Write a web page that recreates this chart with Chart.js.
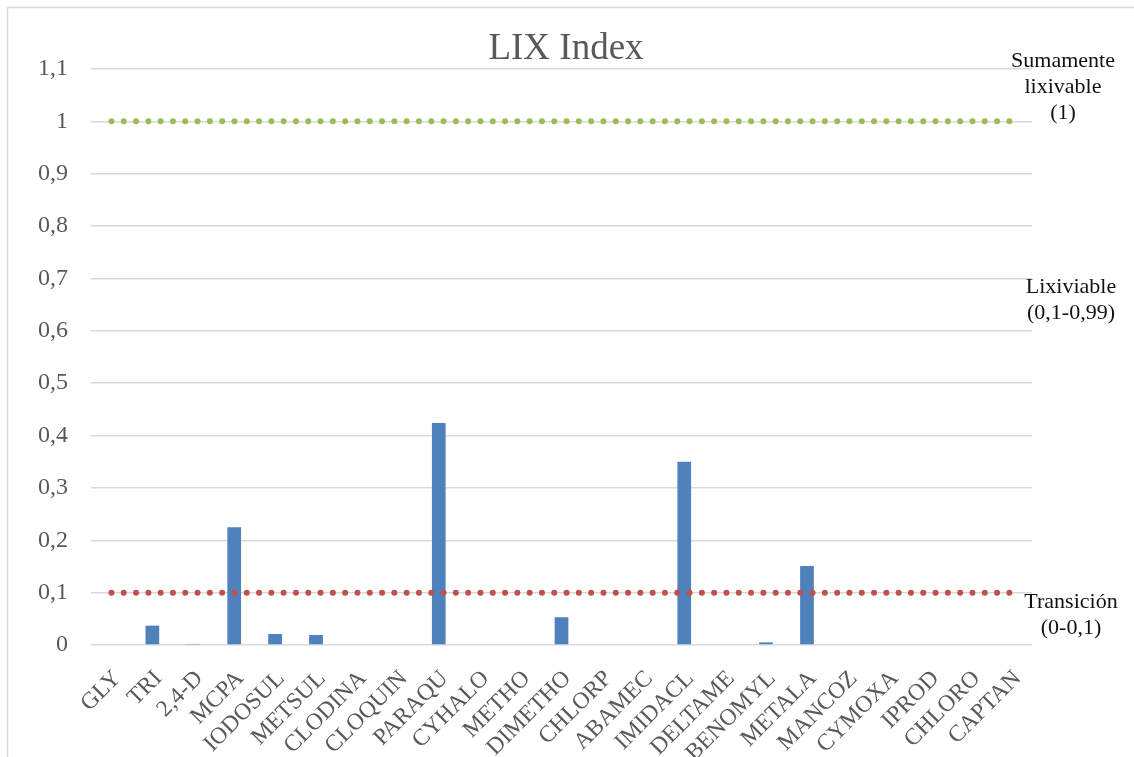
<!DOCTYPE html>
<html>
<head>
<meta charset="utf-8">
<script src="https://cdn.jsdelivr.net/npm/chart.js@4.4.1/dist/chart.umd.min.js"></script>
<style>
  html, body { margin: 0; padding: 0; background: #ffffff; }
  canvas { display: block; }
</style>
</head>
<body>
<canvas id="lix" width="1134" height="757"></canvas>
<script>
// Pesticide abbreviations (categories)
const categories = ['GLY', 'TRI', '2,4-D', 'MCPA', 'IODOSUL', 'METSUL', 'CLODINA', 'CLOQUIN',
  'PARAQU', 'CYHALO', 'METHO', 'DIMETHO', 'CHLORP', 'ABAMEC', 'IMIDACL', 'DELTAME',
  'BENOMYL', 'METALA', 'MANCOZ', 'CYMOXA', 'IPROD', 'CHLORO', 'CAPTAN'];

// LIX index per compound
const lixValues = [0, 0.037, 0.002, 0.225, 0.021, 0.019, 0, 0,
  0.424, 0, 0, 0.053, 0, 0, 0.350, 0,
  0.005, 0.151, 0, 0, 0, 0, 0];

// Class thresholds drawn as reference lines
const upperThreshold = categories.map(() => 1);
const transitionThreshold = categories.map(() => 0.1);

// Y axis ticks
const yMin = 0;
const yMax = 1.1;
const yStep = 0.1;

// Class labels at the right of the plot
const classLabels = [
  { lines: ['Sumamente', 'lixivable', '(1)'] },
  { lines: ['Lixiviable', '(0,1-0,99)'] },
  { lines: ['Transición', '(0-0,1)'] }
];

const SERIF = "'Liberation Serif', 'DejaVu Serif', serif";
const GREY_TEXT = '#595959';
const GRID = '#d9d9d9';

const fmt = v => {
  const r = Math.round(v * 10) / 10;
  return String(r).replace('.', ',');
};

// Outer frame, title and class labels
const decorations = {
  id: 'decorations',
  beforeDraw(chart) {
    const ctx = chart.ctx;
    ctx.save();
    ctx.strokeStyle = GRID;
    ctx.lineWidth = 1.5;
    ctx.beginPath();
    ctx.moveTo(7.5, 760);
    ctx.lineTo(7.5, 7.5);
    ctx.lineTo(1140, 7.5);
    ctx.stroke();
    ctx.restore();
  },
  afterDraw(chart) {
    const ctx = chart.ctx;
    ctx.save();
    ctx.fillStyle = GREY_TEXT;
    ctx.font = '37px ' + SERIF;
    ctx.textAlign = 'center';
    ctx.textBaseline = 'alphabetic';
    ctx.fillText('LIX Index', 566, 59);

    ctx.fillStyle = '#111111';
    ctx.font = '22px ' + SERIF;
    const anchors = [
      { x: 1063, y: 67 },
      { x: 1071, y: 293 },
      { x: 1071, y: 608 }
    ];
    classLabels.forEach((lab, i) => {
      lab.lines.forEach((t, j) => {
        ctx.fillText(t, anchors[i].x, anchors[i].y + j * 26);
      });
    });
    ctx.restore();
  }
};

new Chart(document.getElementById('lix'), {
  data: {
    labels: categories,
    datasets: [
      {
        type: 'bar',
        label: 'LIX',
        data: lixValues,
        backgroundColor: '#4f81bd',
        borderWidth: 0,
        barPercentage: 0.335,
        categoryPercentage: 1,
        order: 2
      },
      {
        type: 'line',
        label: 'Sumamente lixivable',
        data: upperThreshold,
        borderColor: '#9bbb59',
        borderWidth: 6,
        borderDash: [0, 12.3],
        borderCapStyle: 'round',
        pointRadius: 0,
        fill: false,
        order: 1
      },
      {
        type: 'line',
        label: 'Transición',
        data: transitionThreshold,
        borderColor: '#c0504d',
        borderWidth: 6,
        borderDash: [0, 12.3],
        borderCapStyle: 'round',
        pointRadius: 0,
        fill: false,
        order: 1
      }
    ]
  },
  options: {
    responsive: false,
    animation: false,
    devicePixelRatio: 1,
    layout: { padding: { top: 69, right: 102, bottom: 0, left: 0 } },
    plugins: {
      legend: { display: false },
      title: { display: false },
      tooltip: { enabled: false }
    },
    scales: {
      x: {
        offset: true,
        grid: { display: false, drawTicks: false },
        border: { display: false },
        ticks: {
          autoSkip: false,
          minRotation: 45,
          maxRotation: 45,
          padding: 20,
          labelOffset: 6,
          color: GREY_TEXT,
          font: { family: SERIF, size: 23.5 }
        },
        afterFit(scale) { scale.height = 112; }
      },
      y: {
        min: yMin,
        max: yMax,
        grid: { color: GRID, lineWidth: 1.5, drawTicks: false },
        border: { display: false },
        ticks: {
          stepSize: yStep,
          padding: 23,
          color: GREY_TEXT,
          font: { family: SERIF, size: 24 },
          callback: v => fmt(v)
        },
        afterFit(scale) { scale.width = 91; }
      }
    }
  },
  plugins: [decorations]
});
</script>
</body>
</html>
